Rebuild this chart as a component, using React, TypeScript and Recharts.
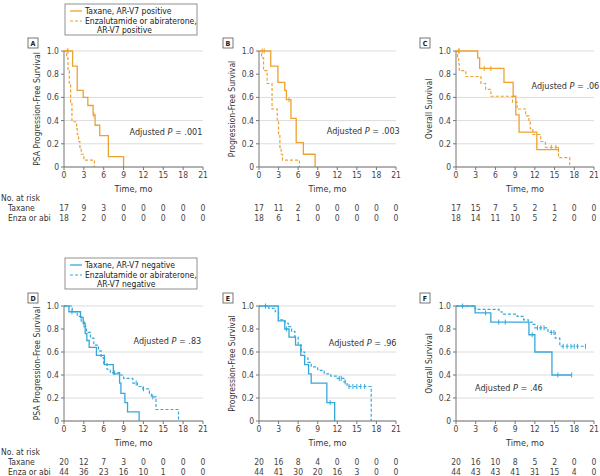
import { ComposedChart, Line, Scatter, XAxis, YAxis, CartesianGrid, Label } from 'recharts';

const ORANGE = '#EFA12F';
const BLUE = '#35A8DB';
const FONT = '"Liberation Sans Narrow", "DejaVu Sans Condensed", "Noto Sans", sans-serif';

const timeTicks = [0, 3, 6, 9, 12, 15, 18, 21];
const survTicks = [0, 0.2, 0.4, 0.6, 0.8, 1];

// KM steps as [time (mo), survival]; censor marks likewise
const aTaxane = [[0, 1], [1.3, 0.87], [2.0, 0.66], [2.9, 0.6], [3.6, 0.53], [4.4, 0.45], [4.7, 0.36], [5.4, 0.27], [6.7, 0.09], [9.0, 0]];
const aTaxaneCens = [[0.6, 1], [4.5, 0.45]];
const aEnza = [[0, 1], [0.4, 0.94], [0.6, 0.83], [0.8, 0.72], [1.0, 0.56], [1.2, 0.39], [1.9, 0.33], [2.0, 0.28], [2.2, 0.22], [2.4, 0.17], [2.6, 0.11], [3.0, 0.06], [4.6, 0]];
const aEnzaCens = [[0.5, 1]];

const bTaxane = [[0, 1], [1.8, 0.87], [2.9, 0.73], [3.95, 0.66], [4.2, 0.58], [4.9, 0.42], [5.7, 0.21], [6.8, 0.11], [8.6, 0]];
const bTaxaneCens = [[0.8, 1], [4.6, 0.58]];
const bEnza = [[0, 1], [0.4, 0.94], [0.7, 0.83], [1.25, 0.72], [2.0, 0.5], [2.8, 0.39], [3.0, 0.28], [3.2, 0.17], [3.4, 0.11], [3.6, 0.06], [6.2, 0]];
const bEnzaCens = [[0.5, 1]];

const cTaxane = [[0, 1], [3.3, 0.94], [3.6, 0.85], [7.3, 0.73], [8.7, 0.61], [9.1, 0.45], [9.6, 0.3], [12.3, 0.15], [15.6, 0.15]];
const cTaxaneCens = [[0.5, 1], [4.3, 0.85], [5.3, 0.85], [15.6, 0.15]];
const cEnza = [[0, 1], [0.25, 0.94], [0.4, 0.89], [0.5, 0.83], [1.5, 0.78], [3.8, 0.72], [4.5, 0.67], [5.3, 0.61], [8.6, 0.56], [9.3, 0.5], [10.6, 0.44], [11.1, 0.39], [11.3, 0.33], [11.7, 0.28], [12.9, 0.22], [13.6, 0.17], [15.6, 0.08], [17.3, 0]];
const cEnzaCens = [[0.4, 1], [14.5, 0.17], [15.2, 0.17]];

const dTaxane = [[0, 1], [0.75, 0.95], [2.5, 0.9], [2.9, 0.85], [3.2, 0.76], [3.45, 0.7], [3.8, 0.64], [4.9, 0.57], [6.1, 0.49], [7.45, 0.41], [8.4, 0.33], [8.6, 0.24], [9.2, 0.16], [9.6, 0.08], [11.35, 0]];
const dTaxaneCens = [[1.2, 0.95], [3.0, 0.85]];
const dEnza = [[0, 1], [1.25, 0.95], [2.0, 0.91], [2.6, 0.86], [3.0, 0.82], [3.4, 0.77], [4.0, 0.72], [4.5, 0.66], [5.2, 0.61], [5.6, 0.55], [6.0, 0.5], [6.5, 0.45], [7.0, 0.42], [8.4, 0.4], [9.0, 0.37], [10.4, 0.33], [11.1, 0.3], [11.9, 0.28], [12.9, 0.24], [13.2, 0.21], [13.9, 0.1], [17.3, 0]];
const dEnzaCens = [[7.6, 0.42], [10.9, 0.33], [12.0, 0.28], [13.4, 0.21]];

const eTaxane = [[0, 1], [2.95, 0.87], [3.95, 0.8], [4.6, 0.73], [5.6, 0.66], [6.4, 0.57], [7.0, 0.49], [7.6, 0.41], [8.0, 0.33], [10.4, 0.16], [11.6, 0]];
const eTaxaneCens = [[1.0, 1], [4.2, 0.8], [10.9, 0.16]];
const eEnza = [[0, 1], [1.5, 0.98], [2.5, 0.95], [3.0, 0.88], [4.0, 0.85], [4.5, 0.82], [5.0, 0.78], [5.5, 0.73], [6.0, 0.66], [6.5, 0.6], [7.0, 0.55], [7.5, 0.51], [8.0, 0.47], [9.0, 0.44], [10.0, 0.41], [11.0, 0.39], [12.0, 0.37], [13.0, 0.34], [13.5, 0.3], [17.2, 0]];
const eEnzaCens = [[12.3, 0.37], [12.6, 0.37], [13.2, 0.34], [13.8, 0.3], [14.4, 0.3], [15.0, 0.3], [15.6, 0.3], [16.2, 0.3]];

const fTaxane = [[0, 1], [2.9, 0.94], [5.3, 0.86], [11.1, 0.75], [12.0, 0.6], [14.6, 0.4], [17.6, 0.4]];
const fTaxaneCens = [[1.0, 1], [4.5, 0.94], [6.5, 0.86], [7.5, 0.86], [11.6, 0.75], [15.5, 0.4], [17.6, 0.4]];
const fEnza = [[0, 1], [2.9, 0.98], [3.0, 0.97], [6.55, 0.95], [7.0, 0.93], [9.3, 0.91], [10.3, 0.88], [11.0, 0.86], [11.6, 0.84], [12.0, 0.81], [14.0, 0.77], [15.1, 0.72], [15.8, 0.65], [19.7, 0.65]];
const fEnzaCens = [[12.4, 0.81], [12.9, 0.81], [13.4, 0.81], [14.5, 0.77], [14.9, 0.77], [16.3, 0.65], [16.9, 0.65], [17.5, 0.65], [18.0, 0.65], [18.5, 0.65], [19.7, 0.65]];

// numbers at risk at each time tick
const aRiskTaxane = [17, 9, 3, 0, 0, 0, 0, 0];
const aRiskEnza = [18, 2, 0, 0, 0, 0, 0, 0];
const bRiskTaxane = [17, 11, 2, 0, 0, 0, 0, 0];
const bRiskEnza = [18, 6, 1, 0, 0, 0, 0, 0];
const cRiskTaxane = [17, 15, 7, 5, 2, 1, 0, 0];
const cRiskEnza = [18, 14, 11, 10, 5, 2, 0, 0];
const dRiskTaxane = [20, 12, 7, 3, 0, 0, 0, 0];
const dRiskEnza = [44, 36, 23, 16, 10, 1, 0, 0];
const eRiskTaxane = [20, 16, 8, 4, 0, 0, 0, 0];
const eRiskEnza = [44, 41, 30, 20, 16, 3, 0, 0];
const fRiskTaxane = [20, 16, 10, 8, 5, 2, 0, 0];
const fRiskEnza = [44, 43, 43, 41, 31, 15, 4, 0];

const panels = [
  { id: 'A', x0: 64, x1: 203, y0: 51, y1: 167, color: ORANGE, yLabel: 'PSA Progression-Free Survival', p: '.001', pAt: [9.9, 0.3], taxane: aTaxane, taxaneCens: aTaxaneCens, enza: aEnza, enzaCens: aEnzaCens, riskT: aRiskTaxane, riskE: aRiskEnza },
  { id: 'B', x0: 259, x1: 396, y0: 51, y1: 167, color: ORANGE, yLabel: 'Progression-Free Survival', p: '.003', pAt: [10.4, 0.31], taxane: bTaxane, taxaneCens: bTaxaneCens, enza: bEnza, enzaCens: bEnzaCens, riskT: bRiskTaxane, riskE: bRiskEnza },
  { id: 'C', x0: 456, x1: 594, y0: 51, y1: 167, color: ORANGE, yLabel: 'Overall Survival', p: '.06', pAt: [11.5, 0.7], taxane: cTaxane, taxaneCens: cTaxaneCens, enza: cEnza, enzaCens: cEnzaCens, riskT: cRiskTaxane, riskE: cRiskEnza },
  { id: 'D', x0: 64, x1: 203, y0: 306, y1: 421, color: BLUE, yLabel: 'PSA Progression-Free Survival', p: '.83', pAt: [10.5, 0.7], taxane: dTaxane, taxaneCens: dTaxaneCens, enza: dEnza, enzaCens: dEnzaCens, riskT: dRiskTaxane, riskE: dRiskEnza },
  { id: 'E', x0: 259, x1: 396, y0: 306, y1: 421, color: BLUE, yLabel: 'Progression-Free Survival', p: '.96', pAt: [10.7, 0.68], taxane: eTaxane, taxaneCens: eTaxaneCens, enza: eEnza, enzaCens: eEnzaCens, riskT: eRiskTaxane, riskE: eRiskEnza },
  { id: 'F', x0: 456, x1: 594, y0: 306, y1: 421, color: BLUE, yLabel: 'Overall Survival', p: '.46', pAt: [2.9, 0.29], taxane: fTaxane, taxaneCens: fTaxaneCens, enza: fEnza, enzaCens: fEnzaCens, riskT: fRiskTaxane, riskE: fRiskEnza },
];

const toPts = (arr) => arr.map(([t, s]) => ({ t, s }));

const censorShape = (color) => (props) => {
  const { cx, cy } = props;
  if (cx == null || cy == null) return null;
  return <line x1={cx} x2={cx} y1={cy - 2.5} y2={cy + 2.5} stroke={color} strokeWidth={1} />;
};

const tickStyle = { fontSize: 8.5, fill: '#444', fontFamily: FONT };

function KMPanel({ p }) {
  const w = p.x1 - p.x0 + 48;
  const h = p.y1 - p.y0 + 35;
  return (
    <div style={{ position: 'absolute', left: p.x0 - 40, top: p.y0 - 5 }}>
      <ComposedChart width={w} height={h} margin={{ top: 5, right: 8, bottom: 0, left: 0 }}>
        <CartesianGrid vertical={false} stroke="#dcdcdc" />
        <XAxis
          type="number"
          dataKey="t"
          domain={[0, 21]}
          ticks={timeTicks}
          allowDataOverflow
          height={30}
          tickSize={3}
          tickMargin={2}
          tick={tickStyle}
          stroke="#777"
        >
          <Label value="Time, mo" position="insideBottom" offset={5} style={{ fontSize: 9, fill: '#333', fontFamily: FONT }} />
        </XAxis>
        <YAxis
          type="number"
          dataKey="s"
          domain={[0, 1]}
          ticks={survTicks}
          width={40}
          tickSize={3}
          tickMargin={2}
          tick={tickStyle}
          stroke="#777"
          tickFormatter={(v) => (v === 0 ? '0' : v.toFixed(1))}
        />
        <Line data={toPts(p.enza)} dataKey="s" type="stepAfter" stroke={p.color} strokeWidth={1.2} strokeDasharray="3 2" dot={false} isAnimationActive={false} />
        <Line data={toPts(p.taxane)} dataKey="s" type="stepAfter" stroke={p.color} strokeWidth={1.3} dot={false} isAnimationActive={false} />
        <Scatter data={toPts(p.enzaCens)} dataKey="s" shape={censorShape(p.color)} isAnimationActive={false} />
        <Scatter data={toPts(p.taxaneCens)} dataKey="s" shape={censorShape(p.color)} isAnimationActive={false} />
      </ComposedChart>
    </div>
  );
}

const sx = (p, t) => p.x0 + (t / 21) * (p.x1 - p.x0);
const sy = (p, s) => p.y1 - s * (p.y1 - p.y0);

function Legend({ top, color, status }) {
  return (
    <g>
      <rect x={65} y={top} width={132} height={31} fill="#fff" stroke="#777" strokeWidth={0.8} />
      <line x1={70} x2={82} y1={top + 7} y2={top + 7} stroke={color} strokeWidth={1.3} />
      <text x={85} y={top + 10} fontSize={8.5} fill="#222">{`Taxane, AR-V7 ${status}`}</text>
      <line x1={70} x2={82} y1={top + 17} y2={top + 17} stroke={color} strokeWidth={1.2} strokeDasharray="3 2" />
      <text x={85} y={top + 20} fontSize={8.5} fill="#222">Enzalutamide or abiraterone,</text>
      <text x={97} y={top + 28.5} fontSize={8.5} fill="#222">{`AR-V7 ${status}`}</text>
    </g>
  );
}

function Overlay() {
  return (
    <svg width={600} height={476} style={{ position: 'absolute', left: 0, top: 0, pointerEvents: 'none', fontFamily: FONT }}>
      <Legend top={4} color={ORANGE} status="positive" />
      <Legend top={258} color={BLUE} status="negative" />
      {panels.map((p) => {
        const ym = (p.y0 + p.y1) / 2;
        const rowY = p.y1 + 30;
        return (
          <g key={p.id}>
            <rect x={p.x0 - 36} y={p.y0 - 13} width={10} height={10} fill="#fff" stroke="#555" strokeWidth={0.8} />
            <text x={p.x0 - 31} y={p.y0 - 5} fontSize={7} fontWeight="bold" textAnchor="middle" fill="#222">{p.id}</text>
            <text transform={`translate(${p.x0 - 24},${ym}) rotate(-90)`} fontSize={8.5} textAnchor="middle" fill="#333">{p.yLabel}</text>
            <text x={sx(p, p.pAt[0])} y={sy(p, p.pAt[1]) + 3} fontSize={9} fill="#333">
              Adjusted <tspan fontStyle="italic">P</tspan> = {p.p}
            </text>
            {p.riskT.map((n, i) => (
              <text key={'t' + i} x={sx(p, timeTicks[i])} y={rowY + 14} fontSize={8.5} textAnchor="middle" fill="#444">{n}</text>
            ))}
            {p.riskE.map((n, i) => (
              <text key={'e' + i} x={sx(p, timeTicks[i])} y={rowY + 23.5} fontSize={8.5} textAnchor="middle" fill="#444">{n}</text>
            ))}
            {p.id === 'A' || p.id === 'D' ? (
              <g>
                <text x={1} y={rowY + 3.5} fontSize={8.5} fill="#333">No. at risk</text>
                <text x={8} y={rowY + 14} fontSize={8.5} fill="#333">Taxane</text>
                <text x={8} y={rowY + 23.5} fontSize={8.5} fill="#333">Enza or abi</text>
              </g>
            ) : null}
          </g>
        );
      })}
    </svg>
  );
}

export default function App() {
  return (
    <div style={{ position: 'relative', width: 600, height: 476, background: '#fff', fontFamily: FONT, overflow: 'hidden' }}>
      <style>{'body{margin:0}'}</style>
      {panels.map((p) => (
        <KMPanel key={p.id} p={p} />
      ))}
      <Overlay />
    </div>
  );
}
